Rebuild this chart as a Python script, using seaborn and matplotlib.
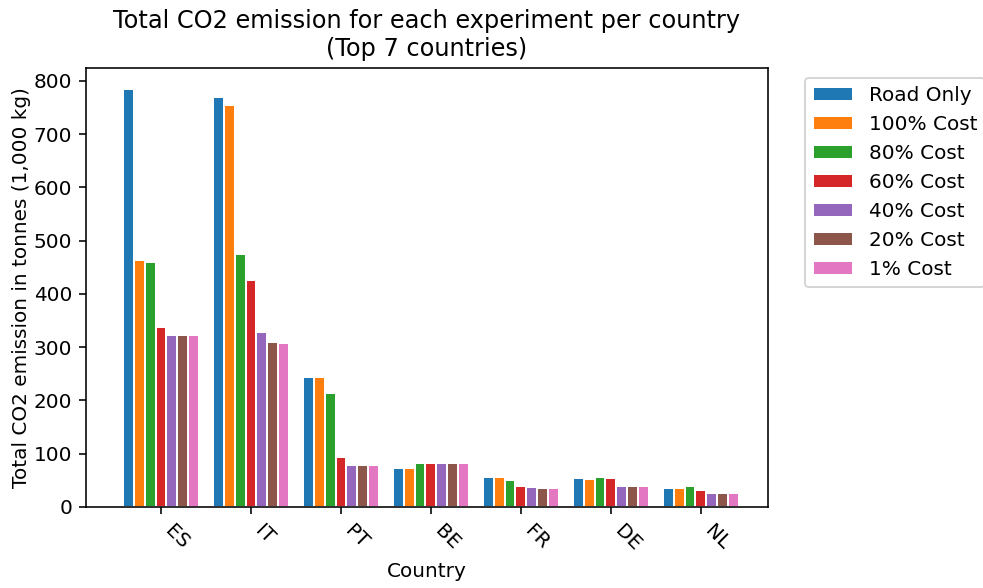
import matplotlib
matplotlib.use("Agg")
import matplotlib.pyplot as plt
import seaborn as sns
import pandas as pd

countries = ["ES", "IT", "PT", "BE", "FR", "DE", "NL"]
experiments = ["Road Only", "100% Cost", "80% Cost", "60% Cost", "40% Cost", "20% Cost", "1% Cost"]

road_only = [785, 770, 244, 74, 56, 54, 36]
cost_100 = [464, 754, 244, 74, 56, 52, 36]
cost_80 = [459, 475, 213, 82, 50, 56, 39]
cost_60 = [337, 426, 94, 82, 39, 55, 31]
cost_40 = [323, 328, 79, 82, 37, 40, 26]
cost_20 = [323, 309, 79, 82, 36, 40, 27]
cost_1 = [322, 307, 79, 82, 36, 40, 26]

series = [road_only, cost_100, cost_80, cost_60, cost_40, cost_20, cost_1]
rows = []
for exp, vals in zip(experiments, series):
    for c, v in zip(countries, vals):
        rows.append({"Country": c, "Experiment": exp, "CO2": v})
df = pd.DataFrame(rows)

DPI = 144
fig = plt.figure(figsize=(983 / DPI, 588 / DPI), dpi=DPI)
ax = fig.add_axes([0.0875, 0.1378, 0.6935, 0.7466])
sns.barplot(data=df, x="Country", y="CO2", hue="Experiment", order=countries,
            hue_order=experiments, palette="tab10", width=0.84, ax=ax,
            edgecolor="white", linewidth=1.0, saturation=1)

ax.set_xlim(-0.833, 6.744)
ax.set_ylim(0, 824)
ax.set_yticks(range(0, 801, 100))
for lbl in ax.get_xticklabels():
    lbl.set_rotation(-45)
    lbl.set_ha("left")
ax.set_xlabel("Country")
ax.set_ylabel("Total CO2 emission in tonnes (1,000 kg)", labelpad=1.5)
ax.set_title("Total CO2 emission for each experiment per country\n(Top 7 countries)")
ax.legend(bbox_to_anchor=(1.04, 1), loc="upper left")

fig.savefig("out.png", dpi=DPI)
